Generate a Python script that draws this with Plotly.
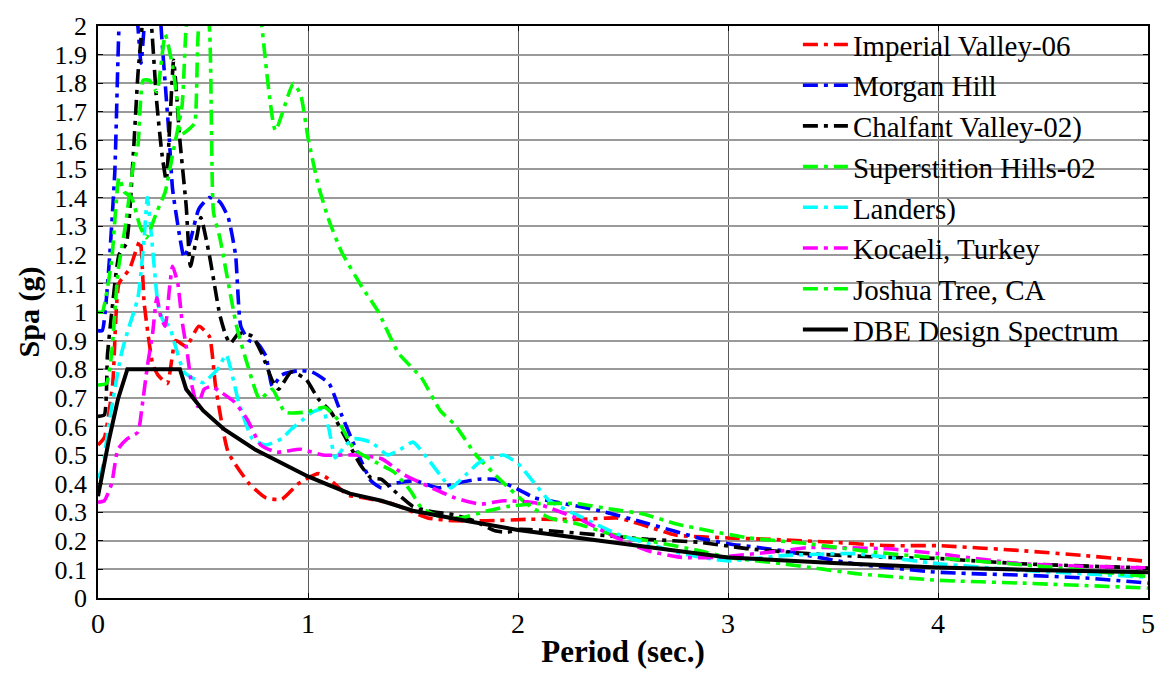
import plotly.graph_objects as go

# ---------------- data ----------------
T_iv = [0, 0.03, 0.07, 0.1, 0.15, 0.2, 0.22, 0.26, 0.285, 0.33, 0.37, 0.42, 0.48, 0.53, 0.56,
        0.62, 0.72, 0.8, 0.875, 0.955, 1.05, 1.11, 1.19, 1.27, 1.4, 1.57, 1.7, 1.85, 2.05, 2.3,
        2.47, 2.53, 2.64, 2.75, 3.0, 3.2, 3.5, 3.76, 4.0, 4.39, 4.7, 5.0]
Sa_iv = [0.535, 0.56, 0.75, 1.1, 1.15, 1.25, 1.03, 0.82, 0.78, 0.75, 0.9, 0.88, 0.95, 0.915, 0.74,
         0.51, 0.40, 0.35, 0.345, 0.40, 0.435, 0.41, 0.36, 0.35, 0.33, 0.28, 0.27, 0.27, 0.275, 0.275,
         0.28, 0.27, 0.245, 0.22, 0.21, 0.205, 0.195, 0.183, 0.183, 0.166, 0.148, 0.128]

T_mh = [0, 0.02, 0.05, 0.08, 0.1, 0.14, 0.19, 0.205, 0.22, 0.27, 0.30, 0.34, 0.355, 0.39, 0.41,
        0.44, 0.48, 0.53, 0.58, 0.62, 0.655, 0.68, 0.72, 0.76, 0.8, 0.83, 0.875, 0.955, 1.02, 1.1,
        1.16, 1.22, 1.3, 1.35, 1.41, 1.51, 1.62, 1.7, 1.81, 1.89, 2.0, 2.08, 2.15, 2.39, 2.62,
        2.86, 3.0, 3.26, 3.6, 4.0, 4.39, 4.7, 5.0]
Sa_mh = [0.935, 0.935, 1.14, 1.49, 2.0, 2.5, 2.0, 1.87, 2.0, 2.4, 2.0, 1.6, 1.43, 1.26, 1.19,
         1.25, 1.36, 1.40, 1.385, 1.33, 1.2, 0.95, 0.9, 0.89, 0.845, 0.74, 0.78, 0.795, 0.79, 0.75,
         0.64, 0.535, 0.41, 0.385, 0.40, 0.41, 0.385, 0.40, 0.415, 0.415, 0.38, 0.35, 0.34, 0.305, 0.26,
         0.21, 0.19, 0.165, 0.12, 0.09, 0.08, 0.07, 0.052]

T_cv = [0, 0.03, 0.045, 0.065, 0.1, 0.135, 0.168, 0.19, 0.21, 0.23, 0.255, 0.28, 0.305, 0.325, 0.345,
        0.36, 0.39, 0.42, 0.44, 0.47, 0.49, 0.53, 0.58, 0.61, 0.63, 0.67, 0.735, 0.78, 0.83, 0.86,
        0.92, 0.99, 1.05, 1.11, 1.19, 1.25, 1.3, 1.35, 1.41, 1.5, 1.57, 1.7, 1.79, 1.89, 1.95,
        2.01, 2.15, 2.39, 2.62, 2.86, 3.1, 3.38, 3.76, 4.0, 4.39, 5.0]
Sa_cv = [0.635, 0.64, 0.85, 0.995, 1.2, 1.24, 1.55, 1.83, 2.0, 2.2, 2.0, 1.73, 1.55, 1.46, 1.7,
         1.88, 1.6, 1.37, 1.16, 1.26, 1.33, 1.2, 0.99, 0.915, 0.89, 0.925, 0.915, 0.855, 0.76, 0.73,
         0.79, 0.765, 0.695, 0.65, 0.545, 0.465, 0.42, 0.415, 0.375, 0.32, 0.305, 0.29, 0.27, 0.235, 0.23,
         0.24, 0.235, 0.22, 0.205, 0.195, 0.172, 0.155, 0.142, 0.138, 0.12, 0.105]

T_sh = [0, 0.04, 0.065, 0.095, 0.13, 0.17, 0.19, 0.215, 0.245, 0.28, 0.32, 0.355, 0.38, 0.395, 0.435,
        0.46, 0.48, 0.6, 0.75, 0.78, 0.845, 0.93, 0.965, 1.0, 1.05, 1.1, 1.16, 1.255, 1.335, 1.43,
        1.54, 1.63, 1.7, 1.8, 1.92, 2.04, 2.15, 2.28, 2.44, 2.62, 2.86, 3.0, 3.26, 3.42, 3.6,
        4.0, 4.4, 5.0]
Sa_sh = [0.745, 0.75, 0.855, 1.14, 1.3, 1.52, 1.58, 1.81, 1.81, 1.77, 1.97, 1.86, 1.72, 1.62, 1.64,
         1.66, 2.0, 2.4, 2.2, 2.0, 1.635, 1.8, 1.76, 1.61, 1.44, 1.32, 1.21, 1.09, 1.0, 0.857,
         0.77, 0.655, 0.605, 0.5, 0.41, 0.33, 0.28, 0.26, 0.224, 0.2, 0.166, 0.142, 0.12, 0.104, 0.086,
         0.062, 0.052, 0.035]

T_la = [0, 0.02, 0.05, 0.08, 0.11, 0.14, 0.19, 0.22, 0.235, 0.25, 0.27, 0.285, 0.31, 0.34, 0.365,
        0.41, 0.46, 0.5, 0.57, 0.61, 0.67, 0.735, 0.8, 0.875, 0.92, 0.97, 1.02, 1.07, 1.1, 1.13,
        1.18, 1.22, 1.3, 1.38, 1.44, 1.5, 1.57, 1.65, 1.68, 1.75, 1.82, 1.93, 2.0, 2.08, 2.15,
        2.31, 2.47, 2.62, 2.78, 3.0, 3.26, 3.6, 4.0, 4.4, 5.0]
Sa_la = [0.42, 0.45, 0.6, 0.73, 0.85, 0.93, 1.05, 1.26, 1.4, 1.3, 1.14, 1.03, 0.97, 0.95, 0.89,
         0.79, 0.765, 0.753, 0.8, 0.85, 0.685, 0.557, 0.535, 0.557, 0.59, 0.62, 0.65, 0.66, 0.59, 0.49,
         0.535, 0.557, 0.545, 0.5, 0.52, 0.545, 0.487, 0.41, 0.385, 0.43, 0.476, 0.5, 0.47, 0.40, 0.34,
         0.28, 0.224, 0.19, 0.155, 0.13, 0.148, 0.155, 0.12, 0.097, 0.073]

T_ko = [0, 0.03, 0.065, 0.095, 0.14, 0.19, 0.21, 0.235, 0.26, 0.28, 0.3, 0.32, 0.34, 0.355, 0.38,
        0.4, 0.425, 0.445, 0.475, 0.505, 0.54, 0.585, 0.65, 0.71, 0.775, 0.85, 0.965, 1.07, 1.22, 1.35,
        1.46, 1.59, 1.7, 1.82, 1.93, 2.08, 2.15, 2.31, 2.47, 2.62, 2.78, 2.94, 3.26, 3.38, 3.76,
        4.0, 4.39, 5.0]
Sa_ko = [0.335, 0.34, 0.4, 0.52, 0.557, 0.58, 0.67, 0.81, 0.925, 1.05, 0.98, 0.95, 1.08, 1.16, 1.1,
         0.97, 0.857, 0.75, 0.67, 0.73, 0.74, 0.72, 0.685, 0.625, 0.535, 0.51, 0.52, 0.5, 0.5, 0.487,
         0.43, 0.385, 0.35, 0.328, 0.34, 0.333, 0.315, 0.27, 0.21, 0.165, 0.142, 0.142, 0.165, 0.176, 0.172,
         0.155, 0.12, 0.105]

T_jt = [0, 0.02, 0.065, 0.1, 0.125, 0.16, 0.2, 0.23, 0.28, 0.32, 0.355, 0.4, 0.42, 0.47, 0.53,
        0.55, 0.58, 0.66, 0.71, 0.77, 0.83, 0.89, 0.99, 1.08, 1.14, 1.22, 1.32, 1.41, 1.49, 1.54,
        1.62, 1.73, 1.85, 1.95, 2.1, 2.28, 2.45, 2.6, 2.75, 2.91, 3.1, 3.38, 3.7, 4.0, 4.5, 5.0]
Sa_jt = [1.0, 1.0, 1.18, 1.47, 1.42, 1.4, 1.3, 1.26, 1.35, 1.42, 1.55, 1.72, 2.0, 2.3, 2.0,
         1.35, 1.26, 0.95, 0.82, 0.695, 0.73, 0.65, 0.65, 0.667, 0.625, 0.52, 0.476, 0.44, 0.373, 0.315,
         0.287, 0.28, 0.304, 0.32, 0.33, 0.33, 0.31, 0.293, 0.26, 0.235, 0.21, 0.19, 0.16, 0.14, 0.11, 0.075]

T_dbe = [0, 0.03, 0.05, 0.095, 0.14, 0.39, 0.42, 0.5, 0.6, 0.75, 0.9, 1.0, 1.1, 1.2, 1.35, 1.5,
         1.75, 2.0, 2.5, 3.0, 3.5, 4.0, 4.5, 5.0]
Sa_dbe = [0.356, 0.48, 0.546, 0.695, 0.8, 0.8, 0.73, 0.656, 0.59, 0.518, 0.46, 0.425, 0.395, 0.365,
          0.34, 0.305, 0.27, 0.238, 0.19, 0.142, 0.122, 0.107, 0.097, 0.09]

names = ["Imperial Valley-06", "Morgan Hill", "Chalfant Valley-02)", "Superstition Hills-02",
         "Landers)", "Kocaeli, Turkey", "Joshua Tree, CA", "DBE Design Spectrum"]
colors = ["#FF0000", "#0000FF", "#000000", "#00FF00", "#00FFFF", "#FF00FF", "#00FF00", "#000000"]
xs = [T_iv, T_mh, T_cv, T_sh, T_la, T_ko, T_jt, T_dbe]
ys = [Sa_iv, Sa_mh, Sa_cv, Sa_sh, Sa_la, Sa_ko, Sa_jt, Sa_dbe]

FONT = "Liberation Serif, Times New Roman, serif"

fig = go.Figure()
for i, (name, c, x, y) in enumerate(zip(names, colors, xs, ys)):
    solid = (i == len(names) - 1)
    fig.add_trace(go.Scatter(
        x=x, y=y, name=name, mode="lines",
        line=dict(color=c, width=4 if solid else 3.6,
                  dash="solid" if solid else "15px,6px,4px,6px",
                  shape="linear" if solid else "spline",
                  smoothing=0.5 if not solid else None),
    ))

fig.update_layout(
    width=1167, height=675,
    margin=dict(l=98, r=12, t=19, b=77),
    paper_bgcolor="white", plot_bgcolor="white",
    font=dict(family=FONT, size=26, color="black"),
    showlegend=True,
    legend=dict(x=0.978, xanchor="right", y=1.012, yanchor="top",
                bgcolor="rgba(0,0,0,0)", borderwidth=0,
                font=dict(family=FONT, size=29, color="black"),
                itemwidth=45, tracegroupgap=0),
)
fig.update_xaxes(
    range=[0, 5], dtick=1, tick0=0,
    showgrid=True, gridcolor="#5a5a5a", gridwidth=1,
    showline=True, linecolor="black", linewidth=1.5, mirror="ticks",
    ticks="inside", ticklen=5, tickcolor="black",
    zeroline=False,
    tickfont=dict(family=FONT, size=28),
    title=dict(text="<b>Period (sec.)</b>", font=dict(family=FONT, size=31), standoff=2),
)
fig.update_yaxes(
    range=[0, 2], dtick=0.1, tick0=0,
    showgrid=True, gridcolor="#9a9a9a", gridwidth=1.5,
    showline=True, linecolor="black", linewidth=1.5, mirror="ticks",
    ticks="inside", ticklen=5, tickcolor="black",
    zeroline=False,
    tickfont=dict(family=FONT, size=26),
    ticklabelstandoff=4,
    title=dict(text="<b>Spa (g)</b>", font=dict(family=FONT, size=30), standoff=6),
)

fig.write_html("out.html")
